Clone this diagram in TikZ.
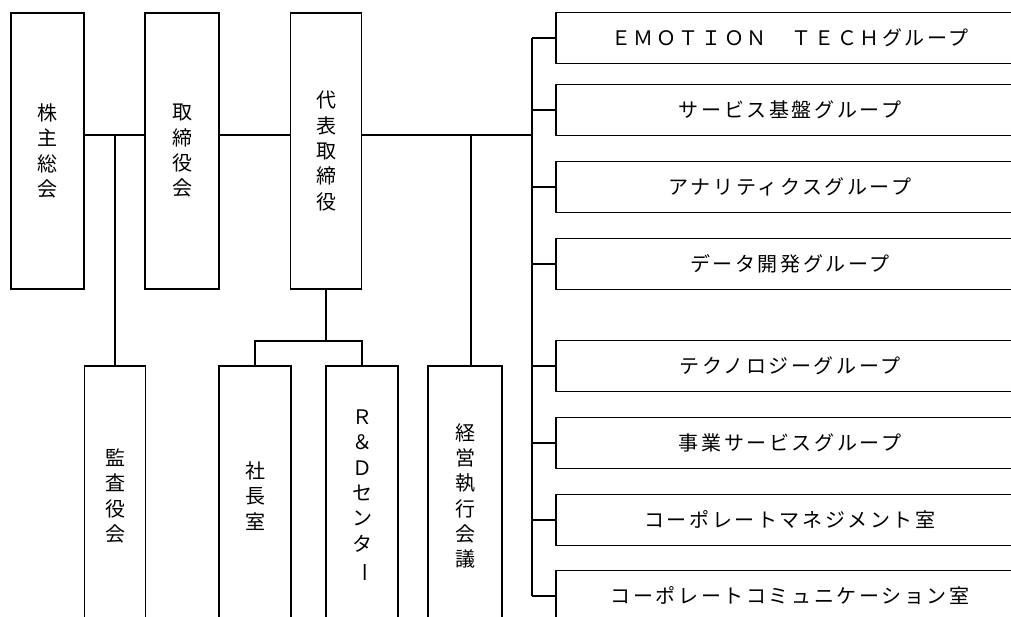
\documentclass[tikz,border=0pt]{standalone}
\usepackage{fontspec}
\usepackage{graphicx}
\newfontfamily\jpfont{Noto Sans CJK JP}
\newfontfamily\jpwide[LetterSpace=13]{Noto Sans CJK JP}
\newcommand{\vbar}{\rotatebox[origin=c]{-90}{ー}}
\begin{document}
\begin{tikzpicture}[x=0.75pt,y=-0.75pt,line width=1.2pt,
		vbox/.style={draw,rectangle,inner sep=0pt,align=center,font=\jpfont\fontsize{15}{19}\selectfont},
		hbox/.style={draw,rectangle,inner sep=0pt,minimum width=351,minimum height=38.25,font=\jpwide\fontsize{15}{19}\selectfont}]
		\useasboundingbox (0,0) rectangle (1011,617);
		\clip (0,0) rectangle (1011,617);
		% top row
		\node [vbox,minimum width=55,minimum height=207] (kabu) at (47.5,151) {株\\主\\総\\会};
		\node [vbox,minimum width=55.5,minimum height=207] (tori) at (182,151) {取\\締\\役\\会};
		\node [vbox,minimum width=53,minimum height=207] (daihyo) at (326,151) {代\\表\\取\\締\\役};
		% bottom row
		\node [vbox,minimum width=45.75,minimum height=195] (kansa) at (115,496) {監\\査\\役\\会};
		\node [vbox,minimum width=54,minimum height=195] (shacho) at (255,496) {社\\長\\室};
		\node [vbox,minimum width=54,minimum height=195] (rd) at (362,496) {Ｒ\\＆\\Ｄ\\セ\\ン\\タ\\\vbar};
		\node [vbox,minimum width=55.5,minimum height=195] (keiei) at (465,496) {経\\営\\執\\行\\会\\議};
		% groups
		\foreach \name/\y/\txt in {g1/38/ＥＭＯＴＩＯＮ　ＴＥＣＨグループ,
				g2/110/サービス基盤グループ,
				g3/187/アナリティクスグループ,
				g4/264/データ開発グループ,
				g5/366/テクノロジーグループ,
				g6/443/事業サービスグループ,
				g7/520/コーポレートマネジメント室,
				g8/596/コーポレートコミュニケーション室}{%
			\node [hbox] (\name) at (790,\y) {\txt};
			}
		% lines
		\coordinate (bus) at (0,135);
		\coordinate (trunk) at (532,135);
		\coordinate (kansaJ) at (115,135);
		\coordinate (keieiJ) at (471,135);
		\coordinate (split) at (326,341);
		\draw (kabu.east |- bus) -- (tori.west |- bus);
		\draw (tori.east |- bus) -- (daihyo.west |- bus);
		\draw (daihyo.east |- bus) -- (trunk);
		\draw (kansaJ) -- (kansa.north);
		\draw (keieiJ) -- (keieiJ |- keiei.north);
		\draw (daihyo.south) -- (split);
		\draw (shacho.north) |- (split) -| (rd.north);
		\draw (trunk |- g1.west) -- (trunk |- g8.west);
		\foreach \name in {g1,g2,g3,g4,g5,g6,g7,g8}{%
			\draw (trunk |- \name.west) -- (\name.west);
			}
	\end{tikzpicture}
\end{document}
